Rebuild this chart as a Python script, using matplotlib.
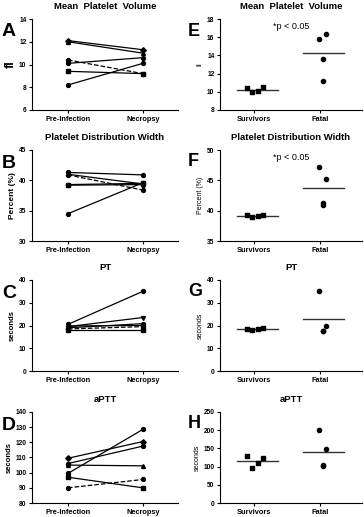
import matplotlib
matplotlib.use("Agg")
import matplotlib.pyplot as plt

plt.rcParams['font.family'] = ['Liberation Sans', 'DejaVu Sans']

time_points = ['Pre-Infection', 'Necropsy']
groups = ['Survivors', 'Fatal']

# paired values (pre, necropsy) per animal
mpv_pre = [12.1, 12.0, 10.4, 10.1, 9.4, 8.2]
mpv_nec = [11.3, 11.0, 9.2, 10.6, 9.2, 10.1]
pdw_pre = [41.3, 41.0, 40.9, 39.3, 39.2, 34.5]
pdw_nec = [40.9, 39.4, 38.4, 39.5, 39.3, 39.6]
pt_pre = [20.5, 19.5, 19.0, 18.5, 18.2, 19.8]
pt_nec = [35.0, 23.5, 20.8, 19.5, 18.2, 20.0]
aptt_pre = [109.5, 106.0, 105.0, 99.5, 97.0, 90.0]
aptt_nec = [120.5, 117.5, 104.5, 128.5, 90.0, 95.5]

# group values at necropsy
mpv_surv = [10.4, 10.0, 10.1, 10.5]
mpv_fatal = [15.8, 16.4, 13.6, 11.2]
pdw_surv = [39.3, 38.9, 39.1, 39.3]
pdw_fatal = [47.2, 45.2, 41.0, 41.3]
pt_surv = [18.5, 18.2, 18.3, 18.8]
pt_fatal = [35.0, 20.0, 17.8, 17.8]
aptt_surv = [130, 97, 110, 125]
aptt_fatal = [200, 148, 102, 105]

W, H = 364, 517
fig = plt.figure(figsize=(W / 100, H / 100), dpi=100)

tops = [19, 150, 280, 412]
ax_h = 91


def make_ax(x0, x1, top):
    ax = fig.add_axes([x0 / W, 1 - (top + ax_h) / H, (x1 - x0) / W, ax_h / H])
    for s in ['top', 'right']:
        ax.spines[s].set_visible(False)
    for s in ['left', 'bottom']:
        ax.spines[s].set_linewidth(0.8)
    ax.tick_params(length=2.5, width=0.8, pad=1.5, labelsize=4.8)
    return ax


left_panels = [
    ('A', 'Mean  Platelet  Volume', 'fl', mpv_pre, mpv_nec, (6, 14), range(6, 15, 2),
     ['D', '^', 'o', 'o', 's', 'o'], 2, 9),
    ('B', 'Platelet Distribution Width', 'Percent (%)', pdw_pre, pdw_nec, (30, 45), range(30, 46, 5),
     ['o', 'v', 'o', 's', 'o', 'o'], 2, 6),
    ('C', 'PT', 'seconds', pt_pre, pt_nec, (0, 40), range(0, 41, 10),
     ['o', 'v', 'o', 'o', 's', 'o'], 3, 5.5),
    ('D', 'aPTT', 'seconds', aptt_pre, aptt_nec, (80, 140), range(80, 141, 10),
     ['D', 'o', '^', 'o', 's', 'o'], 5, 5.5),
]

for top, (letter, title, ylab, pre, nec, ylim, yt, marks, dash_i, ysize) in zip(tops, left_panels):
    ax = make_ax(32, 178, top)
    for i, (a, b) in enumerate(zip(pre, nec)):
        ax.plot([0, 1], [a, b], color='black', lw=0.9,
                ls='--' if i == dash_i else '-',
                marker=marks[i], ms=2.8, clip_on=False)
    ax.set_xlim(-0.48, 1.47)
    ax.set_ylim(*ylim)
    ax.set_yticks(list(yt))
    ax.set_xticks([0, 1])
    ax.set_xticklabels(time_points, fontsize=5.3, fontweight='bold')
    for lab in ax.get_yticklabels():
        lab.set_fontweight('bold')
    ax.set_title(title, fontsize=6.8, fontweight='bold', pad=7)
    ax.set_ylabel(ylab, fontsize=ysize, fontweight='bold', labelpad=2)
    fig.text(2 / W, 1 - (top + 13) / H, letter, fontsize=14, fontweight='bold', va='center')

right_panels = [
    ('E', 'Mean  Platelet  Volume', 'fl', mpv_surv, mpv_fatal, (8, 18), range(8, 19, 2), True),
    ('F', 'Platelet Distribution Width', 'Percent (%)', pdw_surv, pdw_fatal, (35, 50), range(35, 51, 5), True),
    ('G', 'PT', 'seconds', pt_surv, pt_fatal, (0, 40), range(0, 41, 10), False),
    ('H', 'aPTT', 'seconds', aptt_surv, aptt_fatal, (0, 250), range(0, 251, 50), False),
]

surv_offsets = [-0.11, -0.03, 0.06, 0.14]
fatal_offsets = [-0.02, 0.09, 0.05, 0.05]

for top, (letter, title, ylab, surv, fatal, ylim, yt, sig) in zip(tops, right_panels):
    ax = make_ax(220, 362, top)
    ax.scatter([0 + o for o in surv_offsets], surv, marker='s', s=9, color='black', zorder=3)
    ax.scatter([1 + o for o in fatal_offsets], fatal, marker='o', s=9, color='black', zorder=3)
    for x, vals in zip([0, 1], [surv, fatal]):
        m = sum(vals) / len(vals)
        ax.plot([x - 0.26, x + 0.36], [m, m], color='#333333', lw=1.0)
    ax.set_xlim(-0.52, 1.64)
    ax.set_ylim(*ylim)
    ax.set_yticks(list(yt))
    ax.set_xticks([0, 1])
    ax.set_xticklabels(groups, fontsize=5.3, fontweight='bold')
    for lab in ax.get_yticklabels():
        lab.set_fontweight('bold')
    ax.set_title(title, fontsize=6.8, fontweight='bold', pad=7)
    ax.set_ylabel(ylab, fontsize=5, labelpad=2)
    if sig:
        ax.text(0.5, 0.92, '*p < 0.05', transform=ax.transAxes, fontsize=6.5, ha='center', va='center')
    fig.text(188 / W, 1 - (top + 12) / H, letter, fontsize=13, fontweight='bold', va='center')

fig.savefig('out.png', dpi=100)
